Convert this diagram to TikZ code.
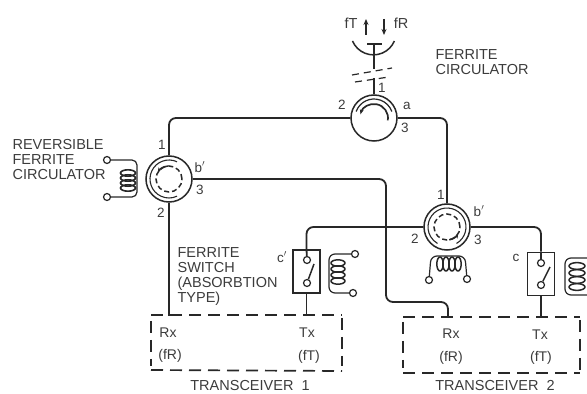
\documentclass[tikz,border=0pt]{standalone}
\usepackage{fontspec}
\setmainfont{Liberation Sans}
\usetikzlibrary{arrows.meta}
\definecolor{cink}{RGB}{40,40,40}
\definecolor{ctext}{RGB}{60,60,60}
\tikzset{
  ferrite/.style={x=1pt,y=1pt,line width=1.2pt,draw=cink,text=ctext,font=\fontsize{14.5}{15.5}\selectfont},
  circulator/.style={circle,draw=cink,line width=1.5pt,minimum size=46pt,inner sep=0pt},
  wire/.style={draw=cink,line width=1.8pt,rounded corners=7pt},
  terminal/.style={circle,draw=cink,line width=1.2pt,minimum size=7pt,inner sep=0pt},
  switchbox/.style={rectangle,draw=cink,line width=1.6pt,minimum width=27pt,minimum height=43pt,inner sep=0pt},
  groupline/.style={draw=cink,line width=1.7pt,dash pattern=on 12pt off 7pt},
  lab/.style={inner sep=0pt,align=left},
  portlab/.style={inner sep=0pt,font=\fontsize{13.5}{13.5}\selectfont},
}
\begin{document}
\begin{tikzpicture}[ferrite]
    \useasboundingbox (0,0) rectangle (587,394);
    \fill[white] (0,0) rectangle (587,394);
    % circulators
    \node[circulator] (circa) at (374,276) {};
    \node[circulator] (circl) at (169,215) {};
    \node[circulator] (circr) at (447,167) {};
    \draw[line width=1.2pt,draw=cink] (circa)++(160:19) arc (160:20:19);
    \draw[line width=1.7pt,draw=cink,-{Stealth[length=5pt]}] (circa)++(-10:14) arc (-10:165:14);
    \draw[line width=1.1pt,draw=cink] (circl)++(65:19) arc (65:295:19);
    \draw[line width=1.5pt,draw=cink,dash pattern=on 5pt off 3pt] (circl) circle (13);
    \draw[line width=1.5pt,draw=cink,-{Stealth[length=5pt]}] (circl)++(95:13) arc (95:150:13);
    \draw[line width=1.1pt,draw=cink] (circr)++(-60:19) arc (-60:240:19);
    \draw[line width=1.5pt,draw=cink,dash pattern=on 5pt off 3pt] (circr) circle (13);
    \draw[line width=1.5pt,draw=cink,-{Stealth[length=5pt]}] (circr)++(-80:13) arc (-80:-30:13);
    % switches
    \node[switchbox] (swa) at (306.5,122.5) {};
    \node[switchbox] (swb) at (541,120) {};
    \node[terminal] (swat) at (307,134) {};
    \node[terminal] (swab) at (307,111) {};
    \node[terminal] (swbt) at (541,131) {};
    \node[terminal] (swbb) at (541,109) {};
    \draw[line width=1.5pt,draw=cink] (swab) -- (314,130);
    \draw[line width=1.5pt,draw=cink] (swbb) -- (550,127);
    \draw[wire] (swa.north) -- (swat);
    \draw[wire] (swb.north) -- (swbt);
    % wiring
    \coordinate (rxa) at (169,78);
    \coordinate (txa) at (306.5,78);
    \coordinate (rxb) at (448,78);
    \coordinate (txb) at (541,76);
    \coordinate (bendr) at (386,92);
    \draw[wire] (circa.west) -| (circl.north);
    \draw[wire] (circa.east) -| (circr.north);
    \draw[wire] (circl.south) -- (rxa);
    \draw[wire] (circl.east) -| (bendr) -| (rxb);
    \draw[wire] (circr.west) -| (swa.north);
    \draw[wire] (circr.east) -| (swb.north);
    \draw[wire] (swa.south) -- (txa);
    \draw[wire] (swb.south) -- (txb);
    % coils
    \node[terminal] (cla) at (107,234) {};
    \node[terminal] (clb) at (107,197) {};
    \draw[rounded corners=5pt] (cla) -- (137,234) -- (137,197) -- (clb);
    \foreach \y in {206,211,216,221} \draw[line width=1.6pt] (128,\y) ellipse (7.5 and 3.2);
    \node[terminal] (caa) at (355,140) {};
    \node[terminal] (cab) at (353,101) {};
    \draw[rounded corners=6pt] (caa) -- (329,140) -- (329,101) -- (cab);
    \foreach \y in {113,119,125,131} \draw[line width=1.5pt] (338,\y) ellipse (7 and 3.2);
    \node[terminal] (cba) at (429,114) {};
    \node[terminal] (cbb) at (467,115) {};
    \draw[rounded corners=6pt] (cba) -- (431,138) -- (465,138) -- (cbb);
    \foreach \x in {440,446,452,458} \draw[line width=1.5pt] (\x,130) ellipse (3.2 and 7);
    \coordinate (cca) at (590,136);
    \coordinate (ccb) at (590,99);
    \draw[rounded corners=6pt] (cca) -- (565,136) -- (565,99) -- (ccb);
    \foreach \y in {107,114,121,128} \draw[line width=1.5pt] (577,\y) ellipse (8 and 3.4);
    % antenna
    \coordinate (stemt) at (374,350);
    \coordinate (stemm) at (374,325);
    \coordinate (stemb) at (374,316);
    \draw[line width=1.5pt] (352.5,353) arc (203:337:22.75);
    \draw[line width=1.7pt] (367,350) -- (382,350);
    \draw[wire] (stemt) -- (stemm);
    \draw[wire] (stemb) -- (circa.north);
    \draw[line width=1.2pt,dash pattern=on 7pt off 5pt] (352,319) -- (392,326);
    \draw[line width=1.2pt,dash pattern=on 7pt off 5pt] (355,312) -- (389,317);
    \draw[line width=1.3pt,-{Stealth[length=6pt,width=5pt]}] (366,359) -- (366,375);
    \draw[line width=1.3pt,-{Stealth[length=6pt,width=5pt]}] (384,375) -- (384,359);
    % transceiver boxes
    \draw[groupline] (151,79) -- (342,79);
    \draw[groupline] (151,24) -- (342,23);
    \draw[groupline] (151,73) -- (151,28);
    \draw[groupline] (342,76) -- (342,28);
    \draw[groupline] (403,77) -- (580,77);
    \draw[groupline] (403,21) -- (580,21);
    \draw[groupline] (403,72) -- (403,26);
    \draw[groupline] (580,74) -- (580,22);
    % labels
    \node[lab,anchor=west] (lrev) at (12,234) {REVERSIBLE\\[-0.5pt]FERRITE\\[-0.5pt]CIRCULATOR};
    \node[lab,anchor=west] (lcir) at (435,332) {FERRITE\\[-0.5pt]CIRCULATOR};
    \node[lab,anchor=west] (lsw) at (177,117) {FERRITE\\[-0.5pt]SWITCH\\[-0.5pt](ABSORBTION\\[-0.5pt]TYPE)};
    \node[lab] (ltra) at (250,8.5) {TRANSCEIVER\ \ 1};
    \node[lab] (ltrb) at (495,8) {TRANSCEIVER\ \ 2};
    \node[lab] (lft) at (351,371) {fT};
    \node[lab] (lfr) at (401,371) {fR};
    \foreach \nm/\x/\y/\t in {pa1/382/306/1,pa2/342/289/2,paa/407/288/a,pa3/405/266/3,
        pl1/162/249/1,plb/200/227/b$'$,pl3/200/204/3,pl2/161/181/2,
        pr1/441/199/1,prb/479/183/b$'$,pr2/415/155/2,pr3/478/154/3,
        sca/282/137/c$'$,scb/516/136/c}
      \node[portlab] (\nm) at (\x,\y) {\t};
    \foreach \nm/\x/\y/\t in {rxa/168/61/Rx,fra/170/38/(fR),txa/307/61/Tx,fta/309/37/(fT),
        rxb/451/60/Rx,frb/451/36/(fR),txb/540/59/Tx,ftb/541/36/(fT)}
      \node[lab,font=\fontsize{14}{14}\selectfont] (l\nm) at (\x,\y) {\t};
\end{tikzpicture}
\end{document}
